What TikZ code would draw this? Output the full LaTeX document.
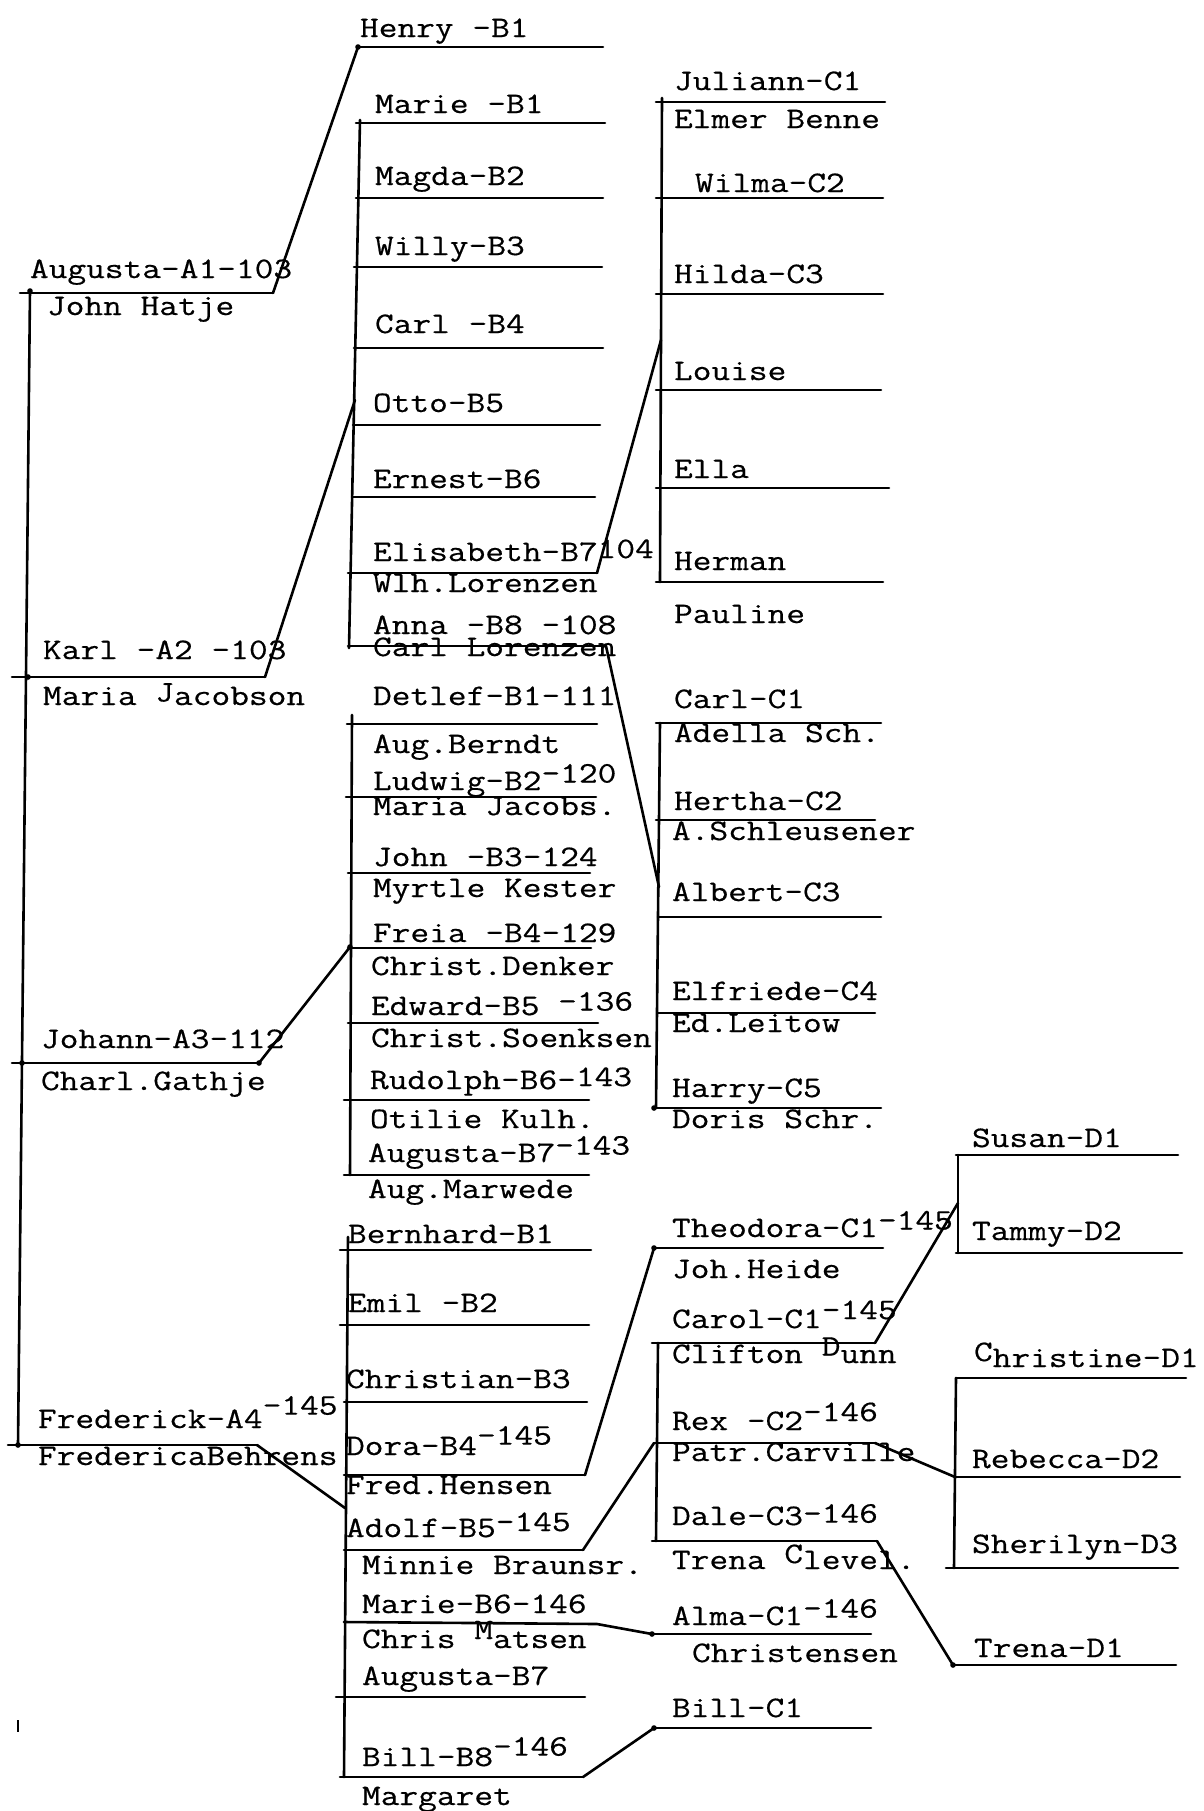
\documentclass[tikz,border=0pt]{standalone}
\usepackage{fontspec}
\newfontfamily\tw[FakeStretch=1.22,FakeBold=0.5]{Latin Modern Mono}
\newcommand\hln[4]{\coordinate (#1l) at (#2,#4); \coordinate (#1r) at (#3,#4); \draw[ln] (#1l) -- (#1r);}
\newcommand\lab[4]{\node[lbl] (#1) at (#2,#3) {#4};}
\newcommand\up[2]{\raisebox{#1}{#2}}
\begin{document}
\begin{tikzpicture}[x=0.5pt,y=-0.5pt,
  ln/.style={line width=1.3pt, line cap=round, line join=round},
  lbl/.style={anchor=base west, inner sep=0pt, outer sep=0pt, font=\tw\fontsize{14.9}{17}\selectfont},
  dotmark/.style={fill=black}]
\fill[white] (0,0) rectangle (1204,1811);
\useasboundingbox (0,0) rectangle (1204,1811);

% ---------- generation A ----------
\coordinate (Atop) at (30,291); \coordinate (Abot) at (18,1445);
\draw[ln] (Atop) -- (Abot);
\hln{augA}{20}{273}{293}
\hln{karlA}{12}{265}{677}
\hln{johA}{12}{259}{1063}
\hln{fredA}{8}{257}{1445}
\lab{tA1}{30}{278}{Augusta-A1-103}
\lab{tA1s}{47}{315}{John Hatje}
\lab{tA2}{43}{659}{Karl -A2 -103}
\lab{tA2s}{43}{705}{Maria \up{0.12em}{J}acobson}
\lab{tA3}{41}{1048}{Johann-A3-112}
\lab{tA3s}{41}{1090}{Charl.Gathje}
\lab{tA4}{38}{1428}{Frederick-A4\up{0.45em}{-145}}
\lab{tA4s}{38}{1465}{FredericaBehrens}

% ---------- Augusta's child ----------
\hln{henry}{358}{603}{47}
\lab{tHenry}{360}{37}{Henry -B1}
\draw[ln] (augAr) -- (henryl);

% ---------- Karl's children ----------
\coordinate (kvt) at (360,120); \coordinate (kvb) at (349,648);
\draw[ln] (kvt) -- (kvb);
\coordinate (kj) at (355,400);
\draw[ln] (karlAr) -- (kj);
\hln{kb1}{356}{605}{123}
\hln{kb2}{356}{603}{198}
\hln{kb3}{354}{602}{267}
\hln{kb4}{354}{603}{348}
\hln{kb5}{353}{600}{425}
\hln{kb6}{352}{595}{497}
\hln{kb7}{348}{597}{573}
\hln{kb8}{348}{606}{646}
\lab{tkb1}{375}{113}{Marie -B1}
\lab{tkb2}{375}{185}{Magda-B2}
\lab{tkb3}{375}{255}{Willy-B3}
\lab{tkb4}{375}{333}{Carl -B4}
\lab{tkb5}{373}{412}{Otto-B5}
\lab{tkb6}{373}{488}{Ernest-B6}
\lab{tkb7}{373}{561}{Elisabeth-B7\up{0.1em}{104}}
\lab{tkb7s}{373}{592}{Wlh.Lorenzen}
\lab{tkb8}{373}{634}{Anna -B8 -108}
\lab{tkb8s}{373}{656}{Carl Lorenzen}

% ---------- Elisabeth's children ----------
\coordinate (evt) at (662,98); \coordinate (evb) at (660,582);
\draw[ln] (evt) -- (evb);
\coordinate (ej) at (661,340);
\draw[ln] (kb7r) -- (ej);
\hln{ec1}{656}{885}{102}
\hln{ec2}{656}{883}{198}
\hln{ec3}{656}{883}{294}
\hln{ec4}{656}{881}{390}
\hln{ec5}{656}{889}{488}
\hln{ec6}{656}{883}{582}
\lab{tec1}{674}{90}{Juliann-C1}
\lab{tec1s}{674}{128}{Elmer Benne}
\lab{tec2}{695}{192}{Wilma-C2}
\lab{tec3}{674}{283}{Hilda-C3}
\lab{tec4}{674}{380}{Louise}
\lab{tec5}{674}{478}{Ella}
\lab{tec6}{674}{570}{Herman}
\lab{tec7}{674}{623}{Pauline}

% ---------- Anna's children ----------
\coordinate (avt) at (660,723); \coordinate (avb) at (656,1108);
\draw[ln] (avt) -- (avb);
\coordinate (aj) at (659,887);
\draw[ln] (kb8r) -- (aj);
\hln{ac1}{656}{881}{723}
\hln{ac2}{656}{875}{820}
\hln{ac3}{658}{881}{917}
\hln{ac4}{658}{875}{1013}
\hln{ac5}{654}{881}{1108}
\lab{tac1}{674}{708}{Carl-C1}
\lab{tac1s}{674}{742}{Adella Sch.}
\lab{tac2}{674}{810}{Hertha-C2}
\lab{tac2s}{672}{840}{A.Schleusener}
\lab{tac3}{672}{901}{Albert-C3}
\lab{tac4}{672}{1000}{Elfriede-C4}
\lab{tac4s}{672}{1032}{Ed.Leitow}
\lab{tac5}{672}{1097}{Harry-C5}
\lab{tac5s}{672}{1128}{Doris Schr.}

% ---------- Johann's children ----------
\coordinate (jvt) at (352,715); \coordinate (jvb) at (350,1175);
\draw[ln] (jvt) -- (jvb);
\coordinate (jj) at (350,947);
\draw[ln] (johAr) -- (jj);
\hln{jb1}{347}{597}{724}
\hln{jb2}{346}{596}{797}
\hln{jb3}{348}{590}{873}
\hln{jb4}{348}{591}{948}
\hln{jb5}{348}{598}{1023}
\hln{jb6}{344}{589}{1100}
\hln{jb7}{344}{589}{1175}
\lab{tjb1}{373}{705}{Detlef-B1-111}
\lab{tjb1s}{373}{753}{Aug.Berndt}
\lab{tjb2}{373}{790}{Ludwig-B2\up{0.25em}{-120}}
\lab{tjb2s}{373}{815}{Maria Jacobs.}
\lab{tjb3}{373}{866}{John -B3-124}
\lab{tjb3s}{373}{897}{Myrtle Kester}
\lab{tjb4}{373}{942}{Freia -B4-129}
\lab{tjb4s}{371}{975}{Christ.Denker}
\lab{tjb5}{371}{1015}{Edward-B5 \up{0.15em}{-136}}
\lab{tjb5s}{371}{1047}{Christ.Soenksen}
\lab{tjb6}{370}{1089}{Rudolph-B6-\up{0.1em}{143}}
\lab{tjb6s}{370}{1128}{Otilie Kulh.}
\lab{tjb7}{368}{1162}{Augusta-B7\up{0.25em}{-143}}
\lab{tjb7s}{368}{1198}{Aug.Marwede}

% ---------- Frederick's children ----------
\coordinate (fvt) at (348,1237); \coordinate (fvb) at (344,1777);
\draw[ln] (fvt) -- (fvb);
\coordinate (fj) at (345,1508);
\draw[ln] (fredAr) -- (fj);
\hln{fb1}{340}{591}{1250}
\hln{fb2}{340}{589}{1325}
\hln{fb3}{344}{587}{1402}
\hln{fb4}{344}{585}{1475}
\hln{fb5}{344}{583}{1550}
\coordinate (fb6l) at (344,1622); \coordinate (fb6m) at (597,1624);
\hln{fb7}{336}{585}{1697}
\hln{fb8}{340}{583}{1777}
\lab{tfb1}{348}{1243}{Bernhard-B1}
\lab{tfb2}{348}{1312}{Emil -B2}
\lab{tfb3}{346}{1388}{Christian-B3}
\lab{tfb4}{346}{1455}{Dora-B4\up{0.35em}{-145}}
\lab{tfb4s}{346}{1494}{Fred.Hensen}
\lab{tfb5}{346}{1537}{Adolf-B5\up{0.2em}{-145}}
\lab{tfb5s}{362}{1574}{Minnie Braunsr.}
\lab{tfb6}{362}{1613}{Marie-B6-146}
\lab{tfb6s}{362}{1648}{Chris \up{0.3em}{M}atsen}
\lab{tfb7}{362}{1685}{Augusta-B7}
\lab{tfb8}{362}{1766}{Bill-B8\up{0.35em}{-146}}
\lab{tfb8s}{362}{1805}{Margaret}

% ---------- Frederick's grandchildren ----------
\hln{gc1}{654}{883}{1248}
\draw[ln] (fb4r) -- (gc1l);
\lab{tgc1}{672}{1237}{Theodora-C1\up{0.25em}{-145}}
\lab{tgc1s}{672}{1278}{Joh.Heide}

\coordinate (gvt) at (658,1343); \coordinate (gvb) at (656,1541);
\draw[ln] (gvt) -- (gvb);
\hln{gc2}{652}{875}{1343}
\hln{gc3}{654}{875}{1443}
\hln{gc4}{652}{877}{1541}
\draw[ln] (fb5r) -- (gc3l);
\lab{tgc2}{672}{1328}{Carol-C1\up{0.3em}{-145}}
\lab{tgc2s}{672}{1363}{Clifton \up{0.25em}{D}unn}
\lab{tgc3}{672}{1430}{Rex -C2\up{0.3em}{-146}}
\lab{tgc3s}{672}{1461}{Patr.Carville}
\lab{tgc4}{672}{1525}{Dale-C3\up{0.08em}{-146}}
\lab{tgc4s}{672}{1569}{Trena \up{0.2em}{C}level.}

\hln{gc5}{652}{871}{1634}
\draw[ln] (fb6l) -- (fb6m) -- (gc5l);
\lab{tgc5}{672}{1625}{Alma-C1\up{0.25em}{-146}}
\lab{tgc5s}{692}{1662}{Christensen}

\hln{gc6}{654}{871}{1728}
\draw[ln] (fb8r) -- (gc6l);
\lab{tgc6}{672}{1717}{Bill-C1}

% ---------- generation D ----------
\coordinate (dvt1) at (958,1155); \coordinate (dvb1) at (958,1253);
\draw[ln] (dvt1) -- (dvb1);
\hln{dd1}{956}{1178}{1155}
\hln{dd2}{956}{1182}{1253}
\coordinate (dj1) at (958,1203);
\draw[ln] (gc2r) -- (dj1);
\lab{tdd1}{972}{1147}{Susan-D1}
\lab{tdd2}{972}{1240}{Tammy-D2}

\coordinate (dvt2) at (956,1378); \coordinate (dvb2) at (954,1568);
\draw[ln] (dvt2) -- (dvb2);
\hln{dd3}{956}{1186}{1378}
\hln{dd4}{955}{1180}{1477}
\hln{dd5}{946}{1178}{1568}
\draw[ln] (gc3r) -- (dd4l);
\lab{tdd3}{974}{1367}{\up{0.2em}{C}hristine-D1}
\lab{tdd4}{972}{1468}{Rebecca-D2}
\lab{tdd5}{972}{1553}{Sherilyn-D3}

\hln{dd6}{953}{1176}{1665}
\draw[ln] (gc4r) -- (dd6l);
\lab{tdd6}{974}{1657}{Trena-D1}

% ---------- small pen dots ----------
\foreach \p in {henryl, Atop, johAr, jj, ac5l, gc1l, gc5l, gc6l, dd6l}
  \fill[dotmark] (\p) circle (1.4pt);
\coordinate (dk) at (28,677); \coordinate (dj) at (22,1063); \coordinate (df) at (18,1445);
\foreach \p in {dk, dj, df} \fill[dotmark] (\p) circle (1.4pt);

% stray tick mark
\coordinate (st1) at (18,1720); \coordinate (st2) at (18,1732);
\draw[line width=0.8pt] (st1) -- (st2);
\end{tikzpicture}
\end{document}
